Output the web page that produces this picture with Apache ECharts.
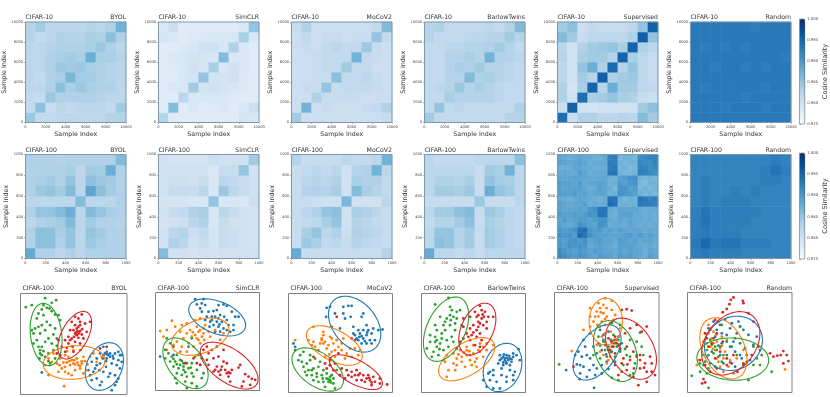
<!DOCTYPE html>
<html>
<head>
<meta charset="utf-8">
<style>
  html, body { margin: 0; background: #fff; }
  #main { width: 830px; height: 397px; }
</style>
<script src="https://cdn.jsdelivr.net/npm/echarts@6/dist/echarts.min.js"></script>
</head>
<body>
<div id="main"></div>
<script>
  // cosine similarity x 1000, per block of the samples (10 or 20 blocks per axis)
  // upper triangles: row i holds the blocks i..n-1, the matrices are symmetric
  const byol10 = [
    [984.5, 981.5, 981.5, 982, 982, 982, 982, 982, 982.5, 982.5],
    [985.5, 981, 982, 981.5, 982, 982, 982, 981.5, 984],
    [984.5, 983, 983, 983, 983, 982.5, 982, 982],
    [985.5, 983.5, 984.5, 983.5, 983, 983, 982],
    [986.5, 984, 984, 983, 982.5, 982],
    [984.5, 983.5, 983, 982.5, 982],
    [987.5, 983.5, 983.5, 982.5],
    [984.5, 983, 982],
    [985.5, 983],
    [987]
  ];
  const simclr10 = [
    [982.5, 978, 978, 978, 978, 978, 978, 978, 979.5, 979],
    [986, 978, 979, 978, 978.5, 979, 978, 979, 980.5],
    [982, 979, 979, 979, 979, 978.5, 978, 978],
    [984, 979.5, 980, 979.5, 979, 978.5, 978],
    [985, 979.5, 979.5, 980, 978.5, 978],
    [983.5, 979, 980, 979, 978],
    [986, 979, 979, 978],
    [983, 979, 978],
    [983.5, 979],
    [985]
  ];
  const moco10 = [
    [984, 980.5, 980.5, 980.5, 980.5, 980.5, 980.5, 980.5, 980.5, 981],
    [987, 980.5, 981, 980.5, 980.5, 980.5, 981, 981.5, 983],
    [983, 981, 981, 981, 981, 980.5, 980.5, 980.5],
    [985, 981, 981.5, 981.5, 981.5, 981, 980.5],
    [985.5, 981.5, 981.5, 982, 981, 980.5],
    [984, 981.5, 981.5, 980.5, 980.5],
    [987, 981.5, 981, 980.5],
    [984.5, 981, 980.5],
    [985, 981.5],
    [986]
  ];
  const barlow10 = [
    [984, 981.5, 981.5, 981.5, 981.5, 981.5, 981.5, 981.5, 982.5, 982.5],
    [985, 981.5, 982, 981.5, 981.5, 981.5, 981.5, 981.5, 983],
    [983.5, 982.5, 982.5, 982.5, 982.5, 982, 981.5, 981.5],
    [984.5, 982.5, 983.5, 982.5, 982, 981.5, 981.5],
    [986, 983, 983.5, 982.5, 982, 981.5],
    [984, 982.5, 982.5, 982, 981.5],
    [987, 983, 982.5, 982],
    [984, 982.5, 981.5],
    [984, 982.5],
    [986]
  ];
  const supervised10 = [
    [994, 980.5, 983, 983, 982, 982, 982.5, 982, 986, 984],
    [995.5, 980, 979.5, 980, 980, 980, 980, 984, 985.5],
    [994, 983.5, 984, 985, 983.5, 983, 981, 980.5],
    [995, 982.5, 987.5, 984, 984, 982, 981.5],
    [995.5, 983, 984, 984.5, 982, 981],
    [994.5, 982.5, 985, 982, 981],
    [995, 983.5, 982, 981],
    [995, 983, 982],
    [995.5, 985],
    [995.5]
  ];
  const random10 = [
    [993, 993, 993, 993, 993, 993, 993, 993, 993, 993],
    [993, 993, 992.5, 993, 993, 993, 992.5, 993, 993],
    [993, 993, 993, 992.5, 993, 993, 993, 993],
    [993, 993, 993, 993, 992.5, 993, 993],
    [993, 993, 993, 993, 993, 993],
    [992.5, 993, 992.5, 993, 993],
    [993, 993, 993, 992.5],
    [993, 993, 993],
    [993, 993],
    [993]
  ];
  const byol100 = [
    [988, 983, 983, 982, 983, 982, 983, 983, 983, 983],
    [985.5, 985.5, 983, 985, 982, 984.5, 983.5, 983, 983],
    [985.5, 983.5, 985, 982, 985, 984, 983, 983],
    [984, 986, 982, 984, 983, 983, 982.5],
    [987.5, 982, 986, 985, 983.5, 983],
    [986, 982, 982, 982, 983],
    [988.5, 985.5, 984, 983],
    [984.5, 984, 983],
    [987.5, 983],
    [986]
  ];
  const simclr100 = [
    [986, 980, 980, 979.5, 980, 979.5, 980, 980, 980, 980],
    [983, 982, 980, 981, 979.5, 981, 980.5, 980, 979.5],
    [982.5, 980.5, 981.5, 979.5, 981, 980.5, 980, 979.5],
    [982, 983, 979, 981, 980, 980, 979.5],
    [983.5, 979, 982, 981, 980, 979.5],
    [985, 979, 979, 979, 980.5],
    [984.5, 982, 981, 980],
    [981.5, 981, 980],
    [985, 980],
    [984]
  ];
  const moco100 = [
    [988, 981, 981, 981, 981, 981, 981, 981, 981, 982.5],
    [984.5, 983.5, 981.5, 982, 981, 982.5, 982, 981.5, 981],
    [985, 982, 983, 980.5, 983, 982.5, 982, 981],
    [983.5, 985, 980, 982.5, 982, 981.5, 981],
    [985.5, 980, 983.5, 983, 982, 981],
    [986.5, 980, 980, 980, 982],
    [986, 983.5, 982.5, 981.5],
    [983, 983, 981.5],
    [987, 982],
    [987]
  ];
  const barlow100 = [
    [988, 982, 982, 981.5, 982, 981, 982, 982, 982, 982],
    [985.5, 985, 982.5, 984, 981, 984, 983, 982, 981.5],
    [985, 982.5, 984, 981, 984, 983, 982, 981.5],
    [984, 985.5, 981, 983.5, 982.5, 982, 981.5],
    [986, 981, 984.5, 983.5, 982, 981.5],
    [984.5, 981, 981, 981, 982],
    [987.5, 985, 984, 982],
    [984, 983.5, 982],
    [987, 982],
    [985.5]
  ];
  const supervised100 = [
    [991.5, 991, 990, 989.5, 990.5, 990, 989, 988.5, 989.5, 989, 989, 988, 989.5, 989, 989.5, 988.5, 988, 987.5, 989, 988.5],
    [990, 989.5, 989, 990, 989.5, 988.5, 989.5, 989, 988.5, 988.5, 988, 989, 988.5, 989, 988.5, 988.5, 987.5, 988.5, 988],
    [990.5, 990, 990.5, 990, 988, 988.5, 989, 988.5, 988, 987.5, 989, 989, 989, 988.5, 988, 987.5, 988, 987.5],
    [990.5, 989.5, 990.5, 988.5, 989, 989.5, 988.5, 988.5, 988, 989.5, 989, 988.5, 989, 988, 988.5, 988.5, 988],
    [994.5, 993.5, 990.5, 989.5, 989, 989, 988.5, 988.5, 988.5, 989, 989.5, 988.5, 989.5, 988.5, 989, 988.5],
    [994, 990, 989.5, 989.5, 988.5, 989, 988, 989, 988.5, 988, 988.5, 988.5, 988, 988.5, 988],
    [989, 988.5, 990.5, 990, 987.5, 988, 988, 987.5, 988.5, 988, 987.5, 988, 987.5, 988],
    [989.5, 990, 990.5, 988, 987.5, 988.5, 988, 988.5, 988, 988, 987.5, 988, 987.5],
    [993.5, 993, 987.5, 987, 988.5, 989, 989, 988, 988, 987.5, 988, 987.5],
    [993.5, 988, 987.5, 988.5, 988.5, 988.5, 988.5, 988, 987.5, 988, 988],
    [994, 993.5, 987, 987.5, 987, 987.5, 993, 992.5, 992.5, 992],
    [993.5, 987.5, 986.5, 987.5, 987, 993.5, 993, 992, 992.5],
    [990.5, 990, 989.5, 989, 987, 986.5, 987, 986.5],
    [990, 989, 989.5, 986.5, 987, 986.5, 987],
    [990, 990.5, 986.5, 986, 987, 987],
    [990.5, 987, 986.5, 987, 986.5],
    [992.5, 992, 991.5, 991],
    [992, 991, 991.5],
    [991, 992],
    [992]
  ];
  const random100 = [
    [992.5, 993, 992.5, 992.5, 992.5, 992, 992, 992, 992, 992],
    [994.5, 993, 993.5, 993.5, 992.5, 992.5, 992.5, 992, 992],
    [992.5, 992.5, 992.5, 992, 992, 992, 992, 992],
    [992.5, 992.5, 992.5, 992, 992, 992, 992],
    [992.5, 992.5, 992.5, 992, 992, 992],
    [992.5, 992, 992, 992, 992],
    [992.5, 992, 992, 992],
    [992.5, 992.5, 992],
    [993.5, 992.5],
    [992]
  ];

  const methods = ['BYOL', 'SimCLR', 'MoCoV2', 'BarlowTwins', 'Supervised', 'Random'];
  const matrices10 = [byol10, simclr10, moco10, barlow10, supervised10, random10];
  const matrices100 = [byol100, simclr100, moco100, barlow100, supervised100, random100];
  const colorbarTicks = [975, 980, 985, 990, 995, 1000];

  // embedding points per class, arbitrary units with y growing downwards
  const byolBlue = [[125,292],[310,215],[320,230],[330,235],[345,235],[300,235],[310,240],[355,230],[360,240],[320,250],[340,250],[365,260],[290,250],[275,260],[300,265],[335,265],[360,280],[285,280],[310,290],[330,295],[345,300],[355,310],[270,300],[290,310],[305,320],[275,315],[345,330],[335,345],[300,330],[265,285],[280,290],[325,305],[350,320],[355,255],[290,270],[325,240],[315,235],[330,245],[308,250],[365,240],[322,238],[338,242],[318,258],[350,270],[298,285],[318,275]];
  const byolOrange = [[192,333],[145,300],[175,290],[185,280],[195,275],[210,270],[220,265],[235,270],[245,265],[255,258],[250,245],[230,250],[215,255],[205,245],[195,240],[200,228],[220,225],[240,225],[155,260],[170,265],[145,250],[160,235],[180,250],[225,285],[240,280],[250,295],[205,295],[215,300],[190,262],[280,235],[270,245],[290,260],[305,245],[260,285],[200,262],[225,268],[245,258],[215,213],[135,270],[208,258],[232,262],[240,272],[222,255],[195,290],[178,270],[262,268]];
  const byolGreen = [[135,69],[168,75],[155,83],[77,96],[95,90],[130,90],[140,98],[148,100],[125,103],[155,108],[115,115],[130,120],[165,118],[175,120],[110,130],[180,135],[140,140],[150,150],[125,150],[115,155],[105,160],[95,165],[135,165],[165,160],[100,175],[120,175],[160,178],[145,190],[110,195],[135,200],[170,190],[100,205],[115,215],[125,215],[155,205],[170,212],[120,225],[130,228],[120,235],[125,240],[135,245],[145,235],[160,225],[118,250],[145,258],[150,265],[165,250]];
  const byolRed = [[245,118],[225,125],[235,130],[215,140],[255,145],[240,140],[225,150],[235,155],[270,140],[220,165],[240,168],[228,172],[245,178],[205,185],[235,188],[215,190],[260,170],[195,195],[225,200],[205,205],[240,205],[218,215],[195,230],[175,195],[185,215],[170,235],[220,230],[250,190],[210,165],[230,180],[230,160],[240,150],[180,240],[225,175],[236,175],[300,220],[320,215],[232,168],[222,185],[210,195],[246,162],[200,218]];

  const simclrBlue = [[585,72],[610,72],[605,85],[590,88],[600,100],[615,90],[625,110],[640,108],[655,90],[670,88],[680,92],[650,105],[635,125],[660,120],[620,125],[695,110],[705,125],[650,140],[665,140],[680,135],[640,150],[655,155],[670,160],[685,150],[700,165],[690,170],[715,125],[630,140],[605,110],[680,165],[660,170],[645,170],[615,135],[635,135],[655,130],[480,245],[520,240],[700,150],[645,125],[672,125],[658,148],[628,155]];
  const simclrOrange = [[515,137],[480,168],[500,165],[490,185],[525,155],[545,150],[560,145],[585,135],[600,130],[615,150],[610,160],[595,170],[585,180],[605,185],[595,195],[575,185],[560,175],[540,170],[550,190],[530,200],[520,210],[545,215],[565,205],[580,215],[600,205],[625,170],[645,165],[660,195],[670,175],[630,185],[540,230],[610,175],[590,155],[570,165],[500,225],[560,230],[600,165],[590,190],[612,195],[578,172]];
  const simclrGreen = [[500,190],[510,205],[520,215],[495,225],[505,235],[515,245],[530,240],[495,250],[510,260],[525,260],[540,255],[550,265],[520,275],[535,280],[550,285],[565,280],[575,295],[530,295],[545,300],[560,305],[580,305],[590,285],[605,310],[555,320],[575,325],[590,335],[610,295],[530,325],[560,340],[525,310],[600,270],[575,265],[585,245],[575,190],[565,215],[550,275],[540,270],[560,265],[595,240],[530,268],[545,258],[555,292],[572,278],[520,252]];
  const simclrRed = [[610,225],[625,235],[635,225],[605,250],[620,255],[600,270],[640,250],[655,245],[670,260],[625,270],[650,275],[665,275],[680,265],[640,290],[655,290],[675,285],[690,295],[695,285],[720,270],[715,278],[660,300],[685,305],[690,320],[730,320],[735,298],[745,305],[765,315],[755,312],[750,330],[725,335],[580,250],[555,265],[590,265],[670,225],[650,215],[620,215],[680,295],[645,285],[662,285],[685,292]];

  const mocoBlue = [[150,95],[140,98],[190,95],[205,92],[215,92],[165,115],[190,115],[212,125],[250,115],[245,125],[138,125],[155,155],[180,160],[220,155],[235,165],[250,165],[265,165],[280,160],[295,165],[308,163],[225,180],[240,175],[260,180],[275,175],[250,190],[235,195],[225,195],[270,195],[285,195],[260,205],[245,205],[275,205],[230,190],[40,205],[45,215],[260,150],[195,130],[220,175],[245,183],[262,172],[255,198],[238,185]];
  const mocoOrange = [[100,155],[130,170],[85,195],[100,200],[130,180],[125,195],[135,200],[120,205],[150,185],[170,195],[190,190],[160,205],[175,215],[140,220],[155,230],[185,225],[210,220],[225,220],[135,245],[165,245],[150,250],[195,250],[215,245],[45,195],[115,225],[105,215],[130,205],[145,210],[240,225],[125,190],[185,205],[95,210],[235,240],[155,190],[165,225],[200,235],[148,238]];
  const mocoGreen = [[45,225],[60,240],[70,230],[55,255],[65,260],[80,265],[90,255],[70,275],[85,285],[100,280],[115,275],[130,285],[80,300],[95,300],[110,295],[125,300],[140,310],[150,315],[160,310],[115,320],[130,320],[145,320],[160,325],[100,315],[135,335],[165,340],[155,300],[170,285],[120,260],[150,270],[105,250],[140,295],[75,290],[90,240],[145,312],[150,305],[95,285],[110,305],[128,310],[152,322]];
  const mocoRed = [[150,255],[135,265],[150,270],[165,265],[185,280],[200,285],[215,290],[230,285],[215,305],[235,300],[250,300],[265,300],[280,305],[245,315],[270,315],[285,320],[300,310],[300,325],[322,328],[275,330],[255,320],[230,315],[195,310],[180,300],[160,285],[140,280],[240,295],[175,235],[215,190],[100,245],[205,300],[260,310],[275,322],[170,125],[225,300],[268,308]];

  const barlowBlue = [[660,240],[670,245],[680,240],[690,250],[700,245],[675,255],[685,255],[660,255],[695,260],[720,255],[655,265],[670,262],[680,265],[700,235],[710,240],[665,280],[690,285],[640,285],[630,290],[625,295],[640,300],[665,300],[680,305],[700,300],[610,315],[630,315],[650,320],[680,320],[700,315],[620,335],[640,340],[660,340],[705,290],[675,250],[682,248],[670,270],[690,270],[716,222],[665,250],[678,262],[688,242],[672,238],[695,252]];
  const barlowOrange = [[620,205],[600,205],[640,210],[580,210],[560,215],[540,225],[520,235],[500,240],[530,250],[545,245],[560,240],[580,235],[600,230],[590,250],[570,255],[545,260],[520,265],[490,255],[575,270],[555,275],[525,285],[505,285],[530,270],[590,275],[595,225],[620,225],[610,215],[560,225],[500,305],[495,260],[570,240],[610,245],[585,260],[552,232],[535,238],[568,228]];
  const barlowGreen = [[505,68],[465,88],[510,95],[515,105],[530,110],[480,125],[500,130],[520,125],[540,105],[465,150],[490,150],[510,150],[525,145],[470,165],[450,180],[465,185],[485,175],[495,165],[525,165],[545,150],[450,200],[465,200],[480,205],[500,195],[515,185],[440,220],[470,215],[490,225],[505,215],[460,230],[475,240],[520,200],[455,245],[530,130],[510,120],[495,140],[470,195],[485,190],[512,135],[478,222]];
  const barlowRed = [[600,92],[605,105],[585,110],[615,110],[625,125],[640,125],[570,125],[590,125],[605,130],[620,140],[595,140],[580,150],[570,160],[550,155],[610,150],[590,165],[600,175],[620,160],[560,175],[575,180],[590,185],[550,190],[570,195],[540,200],[605,195],[585,210],[600,215],[530,220],[600,145],[612,125],[595,120],[550,130],[580,172],[565,185],[595,155],[608,118]];

  const supervisedBlue = [[78,285],[115,230],[130,195],[150,175],[180,165],[190,180],[205,170],[235,185],[120,270],[110,268],[130,275],[120,295],[118,312],[150,250],[140,240],[160,270],[170,280],[185,270],[200,260],[165,300],[140,305],[162,338],[215,308],[205,215],[195,210],[185,225],[215,230],[170,235],[225,270],[240,225],[125,245],[105,240],[185,295],[135,215],[190,195],[212,195],[175,205],[198,238],[160,215],[148,285],[205,282]];
  const supervisedOrange = [[195,70],[215,78],[175,85],[190,90],[150,100],[180,100],[200,100],[170,110],[190,115],[215,105],[150,125],[175,125],[200,125],[225,120],[160,140],[185,140],[210,145],[150,155],[180,155],[130,165],[220,135],[165,125],[195,150],[95,228],[195,200],[205,220],[190,240],[180,230],[170,210],[215,200],[210,245],[200,265],[240,160],[195,175],[185,185],[205,255],[182,112],[195,132],[172,150],[212,170]];
  const supervisedGreen = [[57,268],[215,145],[240,150],[220,180],[235,195],[225,205],[215,215],[230,215],[245,205],[190,200],[270,195],[290,200],[305,215],[180,250],[200,245],[225,260],[250,270],[270,245],[290,240],[310,240],[245,290],[270,300],[235,315],[195,225],[240,230],[260,240],[285,265],[300,173],[160,240],[205,225],[175,185],[280,295],[222,195],[238,208],[212,232],[255,222],[180,212],[225,245]];
  const supervisedRed = [[260,103],[275,107],[245,105],[290,150],[320,155],[305,170],[270,160],[255,175],[225,185],[215,200],[230,205],[220,215],[240,220],[210,225],[225,235],[260,215],[280,230],[300,240],[330,245],[315,265],[335,265],[270,255],[245,265],[300,280],[320,290],[335,290],[345,300],[260,285],[280,305],[295,330],[100,275],[235,300],[250,250],[320,320],[290,245],[300,255],[218,205],[205,190],[228,195],[235,212],[262,268],[282,280],[312,278]];

  const randomBlue = [[520,140],[540,150],[570,160],[600,155],[610,165],[590,175],[560,180],[580,200],[600,205],[640,210],[615,220],[585,230],[545,205],[525,185],[560,240],[600,240],[620,240],[550,265],[585,275],[505,160],[515,230],[630,255],[540,240],[555,135],[575,145],[595,140],[625,180],[570,215],[530,165],[545,175],[605,250],[570,262],[535,212],[650,185]];
  const randomOrange = [[505,150],[495,175],[515,190],[530,200],[510,215],[525,225],[540,220],[555,230],[530,250],[550,250],[490,200],[500,245],[475,255],[470,270],[550,290],[580,295],[735,283],[560,195],[505,175],[520,170],[545,185],[570,255],[590,250],[520,205],[535,260],[610,225],[512,160],[528,180],[500,205],[545,212],[518,222],[565,275],[540,275]];
  const randomGreen = [[535,140],[545,150],[515,210],[500,225],[490,240],[505,240],[520,235],[480,265],[495,260],[510,265],[525,275],[455,302],[480,290],[500,295],[540,215],[560,200],[590,240],[620,260],[650,250],[660,270],[695,290],[625,315],[505,338],[585,190],[600,155],[530,225],[545,260],[640,215],[665,240],[575,215],[510,195],[525,215],[490,270],[505,280],[550,240],[535,245],[610,270],[640,270]];
  const randomRed = [[580,68],[572,75],[608,78],[610,85],[568,88],[560,102],[548,112],[625,115],[525,135],[640,140],[510,165],[530,175],[495,175],[500,190],[515,205],[540,230],[560,250],[575,265],[560,270],[530,280],[510,290],[495,270],[480,255],[610,265],[635,240],[655,215],[660,225],[700,245],[712,242],[722,240],[730,228],[740,240],[745,258],[730,265],[690,235],[486,325],[495,322],[490,312],[592,290],[520,190],[505,215],[525,250],[580,240],[548,200]];

  // covariance ellipses: cx, cy, semi major, semi minor, angle of the major axis in degrees
  // same order as the classes: blue, orange, green, red
  const byolEllipses = [[313,274,75,53,-65],[222,262,93,50,-5],[138,178,94,47,83],[224,180,78,40,-62]];
  const simclrEllipses = [[651,127,90,48,22],[600,185,90,50,-20],[556,265,88,52,52],[687,272,100,50,35]];
  const mocoEllipses = [[224,147,95,65,50],[163,211,92,46,28],[113,283,88,50,35],[228,291,88,36,28]];
  const barlowEllipses = [[668,277,75,55,-68],[560,252,95,48,-32],[498,162,103,58,-65],[592,162,83,48,-65]];
  const supervisedEllipses = [[171,232,95,55,-53],[197,140,70,50,90],[226,228,95,60,68],[273,221,100,65,58]];
  const randomEllipses = [[580,205,90,78,-30],[550,220,98,62,63],[578,252,108,63,3],[572,205,105,75,-52]];

  const classColors = ['#1f77b4', '#ff7f0e', '#2ca02c', '#d62728'];
  const blues = ['#f7fbff', '#deebf7', '#c6dbef', '#9ecae1', '#6baed6', '#4292c6', '#2171b5', '#08519c', '#08306b'];
  const fontName = '"DejaVu Sans"';

  const scatterPanels = [
    {classes: [byolBlue, byolOrange, byolGreen, byolRed], ellipses: byolEllipses, rect: [20.5, 293.5, 106.5, 101], range: [61, 381, 55, 358]},
    {classes: [simclrBlue, simclrOrange, simclrGreen, simclrRed], ellipses: simclrEllipses, rect: [155.5, 292.5, 104, 98], range: [466, 778, 52, 347]},
    {classes: [mocoBlue, mocoOrange, mocoGreen, mocoRed], ellipses: mocoEllipses, rect: [288.5, 293.5, 104, 99], range: [25, 338, 55, 352]},
    {classes: [barlowBlue, barlowOrange, barlowGreen, barlowRed], ellipses: barlowEllipses, rect: [421.5, 293.5, 104, 99], range: [424, 737, 55, 352]},
    {classes: [supervisedBlue, supervisedOrange, supervisedGreen, supervisedRed], ellipses: supervisedEllipses, rect: [554.5, 292.5, 104.5, 100], range: [43, 357, 53, 352]},
    {classes: [randomBlue, randomOrange, randomGreen, randomRed], ellipses: randomEllipses, rect: [687.5, 292.5, 104.5, 100], range: [442, 756, 53, 352]}
  ];

  const heatLefts = [25.5, 158.5, 291.5, 424.5, 557.5, 690.5];

  function heatData(triangle) {
    let _data = [];
    triangle.forEach((row, i) => {
      row.forEach((val, k) => {
        let j = i + k;
        _data.push([i, j, val]);
        if (i !== j) {
          _data.push([j, i, val]);
        }
      });
    });
    return _data;
  }

  function ellipsePoints(e, api) {
    let _points = [], rot = e[4] * Math.PI / 180;
    for (let t = 0; t < 72; t++) {
      let ang = t / 72 * Math.PI * 2;
      let dx = e[2] * Math.cos(ang), dy = e[3] * Math.sin(ang);
      _points.push(api.coord([
        e[0] + dx * Math.cos(rot) - dy * Math.sin(rot),
        e[1] + dx * Math.sin(rot) + dy * Math.cos(rot)
      ]));
    }
    return _points;
  }

  let grid = [], xAxis = [], yAxis = [], series = [], title = [];

  function addTitle(left, top, text, align) {
    title.push({
      text: text, left: left, top: top, padding: 0, textAlign: align,
      textStyle: {fontFamily: fontName, fontSize: 6.2, fontWeight: 'normal', color: '#333', lineHeight: 7}
    });
  }

  function addHeatmap(left, top, size, triangle, maxIndex) {
    let g = grid.length, blocks = triangle.map((row, i) => i);
    grid.push({left: left, top: top, width: size[0], height: size[1], show: true, z: 5,
      backgroundColor: 'transparent', borderColor: '#7f98ad', borderWidth: 1});
    let valueAxis = {
      gridIndex: g, type: 'value', min: 0, max: maxIndex, interval: maxIndex / 5,
      axisLine: {show: false}, splitLine: {show: false},
      axisTick: {show: true, length: 1.5, lineStyle: {color: '#666', width: 0.5}},
      axisLabel: {fontFamily: fontName, fontSize: 3.6, color: '#444', margin: 2.5, formatter: (v) => String(v)},
      name: 'Sample Index', nameLocation: 'middle',
      nameTextStyle: {fontFamily: fontName, fontSize: 6.3, color: '#333'}
    };
    // hidden category axes carry the heatmap cells, the value axes carry the ticks
    xAxis.push({gridIndex: g, type: 'category', data: blocks, show: false});
    yAxis.push({gridIndex: g, type: 'category', data: blocks, show: false});
    xAxis.push(Object.assign({}, valueAxis, {position: 'bottom', nameGap: 8.5}));
    yAxis.push(Object.assign({}, valueAxis, {position: 'left', nameGap: 16.5}));
    series.push({
      type: 'heatmap', xAxisIndex: xAxis.length - 2, yAxisIndex: yAxis.length - 2,
      data: heatData(triangle), silent: true, progressive: 0,
      itemStyle: {borderWidth: 0}
    });
    return series.length - 1;
  }

  function addColorbar(left, top, size) {
    let g = grid.length;
    grid.push({left: left, top: top, width: size[0], height: size[1], show: true, z: 5,
      backgroundColor: 'transparent', borderColor: '#555', borderWidth: 0.5});
    xAxis.push({gridIndex: g, type: 'value', show: false, min: 0, max: 1});
    yAxis.push({
      gridIndex: g, type: 'value', position: 'right',
      min: colorbarTicks[0], max: colorbarTicks[colorbarTicks.length - 1], interval: colorbarTicks[1] - colorbarTicks[0],
      axisLine: {show: false}, splitLine: {show: false},
      axisTick: {show: true, length: 1.5, lineStyle: {color: '#666', width: 0.5}},
      axisLabel: {fontFamily: fontName, fontSize: 3.8, color: '#444', margin: 2.5, formatter: (v) => (v / 1000).toFixed(3)},
      name: 'Cosine Similarity', nameLocation: 'middle', nameGap: 15, nameRotate: 90,
      nameTextStyle: {fontFamily: fontName, fontSize: 6.6, color: '#333'}
    });
  }

  function addScatter(panel) {
    let g = grid.length, r = panel.rect, range = panel.range;
    grid.push({left: r[0], top: r[1], width: r[2], height: r[3], show: true, z: 5,
      backgroundColor: 'transparent', borderColor: '#808080', borderWidth: 1});
    xAxis.push({gridIndex: g, type: 'value', show: false, min: range[0], max: range[1]});
    yAxis.push({gridIndex: g, type: 'value', show: false, inverse: true, min: range[2], max: range[3]});
    let xi = xAxis.length - 1, yi = yAxis.length - 1;
    panel.classes.forEach((points, c) => {
      series.push({
        type: 'scatter', xAxisIndex: xi, yAxisIndex: yi, data: points, silent: true,
        symbolSize: 2.8, itemStyle: {color: classColors[c], opacity: 1}
      });
    });
    panel.ellipses.forEach((e, c) => {
      series.push({
        type: 'custom', xAxisIndex: xi, yAxisIndex: yi, data: [e], silent: true, z: 3,
        encode: {x: 0, y: 1},
        renderItem: function (params, api) {
          return {
            type: 'polygon',
            shape: {points: ellipsePoints(e, api)},
            style: {fill: 'none', stroke: classColors[c], lineWidth: 1.1}
          };
        }
      });
    });
  }

  let row1 = [], row2 = [];
  methods.forEach((m, i) => {
    let left = heatLefts[i];
    row1.push(addHeatmap(left, 22, [100.5, 100.5], matrices10[i], 10000));
    addTitle(left, 14, 'CIFAR-10');
    addTitle(left + 100.5, 14, m, 'right');
  });
  methods.forEach((m, i) => {
    let left = heatLefts[i];
    row2.push(addHeatmap(left, 154.5, [100.5, 104], matrices100[i], 1000));
    addTitle(left, 146.5, 'CIFAR-100');
    addTitle(left + 100.5, 146.5, m, 'right');
  });
  addColorbar(799.5, 19, [5.5, 105]);
  addColorbar(799.5, 153, [5.5, 106]);
  scatterPanels.forEach((panel, i) => {
    addScatter(panel);
    addTitle(panel.rect[0] + 2, 285, 'CIFAR-100');
    addTitle(panel.rect[0] + panel.rect[2], 285, methods[i], 'right');
  });

  let chart = echarts.init(document.getElementById('main'), null, {renderer: 'canvas'});
  chart.setOption({
    animation: false,
    backgroundColor: '#fff',
    tooltip: {show: false},
    title: title,
    grid: grid,
    xAxis: xAxis,
    yAxis: yAxis,
    visualMap: [
      {type: 'continuous', seriesIndex: row1, min: colorbarTicks[0], max: 1000, left: 799.5, top: 19, itemWidth: 5.5, itemHeight: 105,
        padding: 0, text: null, showLabel: false, calculable: false, realtime: false, hoverLink: false, inRange: {color: blues}, textStyle: {fontSize: 1, color: 'transparent'}},
      {type: 'continuous', seriesIndex: row2, min: colorbarTicks[0], max: 1000, left: 799.5, top: 153, itemWidth: 5.5, itemHeight: 106,
        padding: 0, text: null, showLabel: false, calculable: false, realtime: false, hoverLink: false, inRange: {color: blues}, textStyle: {fontSize: 1, color: 'transparent'}}
    ],
    series: series
  });
</script>
</body>
</html>
